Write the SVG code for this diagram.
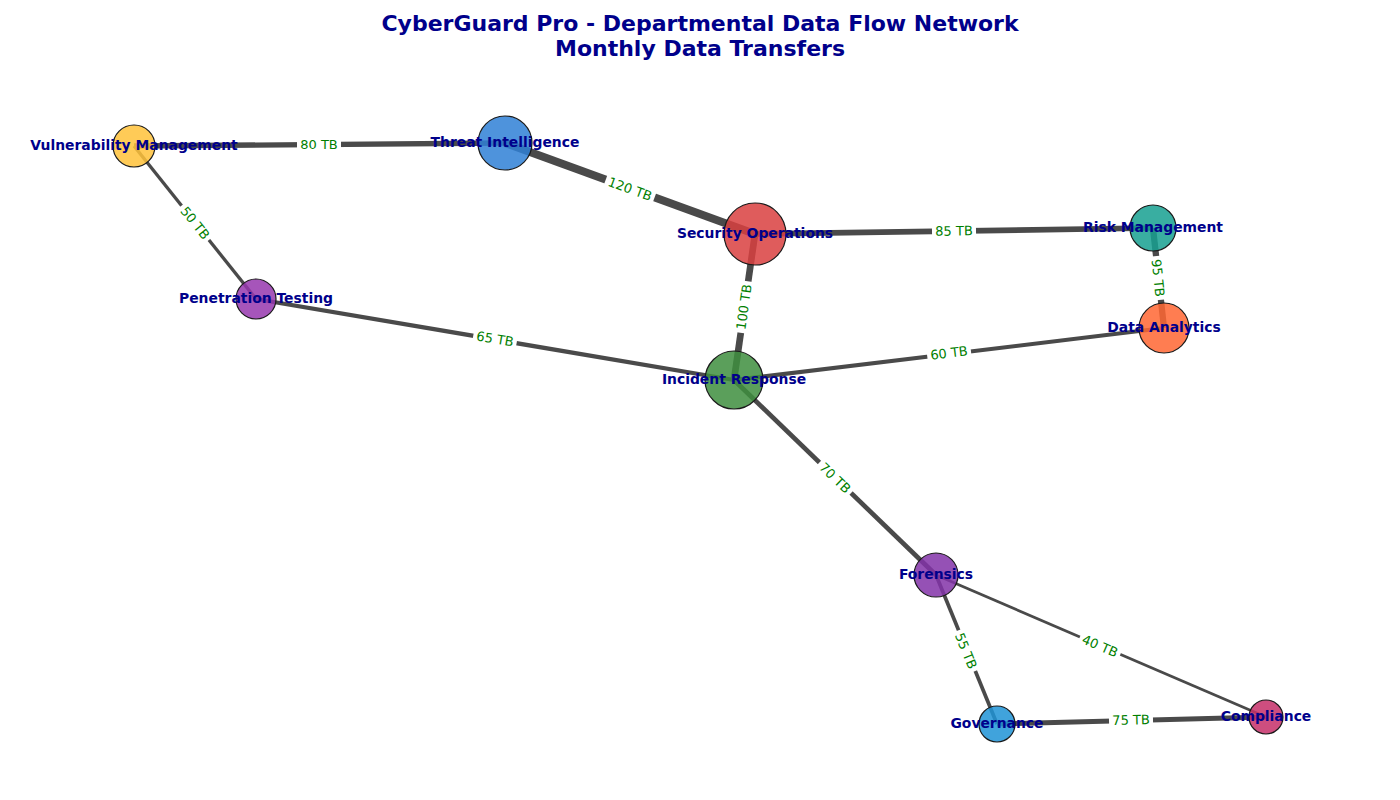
<svg xmlns="http://www.w3.org/2000/svg" width="1400" height="800" viewBox="0 0 1400 800">
<style>
.title{font-family:"DejaVu Sans",sans-serif;font-weight:bold;font-size:22px;fill:#00008B;text-anchor:middle}
.edge{stroke:#4a4a4a;stroke-linecap:butt;fill:none}
.node circle{stroke:#1a1a1a;stroke-width:1.2;fill-opacity:0.85}
.node text{font-family:"DejaVu Sans",sans-serif;font-weight:bold;font-size:13.9px;fill:#00008B;text-anchor:middle;dominant-baseline:central}
.elabel rect{fill:#ffffff}
.elabel text{font-family:"DejaVu Sans",sans-serif;font-size:13px;fill:#008000;text-anchor:middle;dominant-baseline:central}
</style>
<rect width="1400" height="800" fill="#ffffff"/>
<text class="title" x="700" y="31">CyberGuard Pro - Departmental Data Flow Network</text>
<text class="title" x="700" y="55.5">Monthly Data Transfers</text>
<g id="connectors">
<line class="edge" x1="134" y1="146" x2="505" y2="143" stroke-width="5.3"/>
<line class="edge" x1="505" y1="143" x2="755" y2="234" stroke-width="8"/>
<line class="edge" x1="755" y1="234" x2="1153" y2="228" stroke-width="5.7"/>
<line class="edge" x1="755" y1="234" x2="734" y2="380" stroke-width="6.7"/>
<line class="edge" x1="1153" y1="228" x2="1164" y2="328" stroke-width="6.3"/>
<line class="edge" x1="134" y1="146" x2="256" y2="299" stroke-width="3.3"/>
<line class="edge" x1="256" y1="299" x2="734" y2="380" stroke-width="4.3"/>
<line class="edge" x1="734" y1="380" x2="1164" y2="328" stroke-width="4"/>
<line class="edge" x1="734" y1="380" x2="936" y2="575" stroke-width="4.7"/>
<line class="edge" x1="936" y1="575" x2="997" y2="724" stroke-width="3.7"/>
<line class="edge" x1="936" y1="575" x2="1266" y2="717" stroke-width="2.7"/>
<line class="edge" x1="997" y1="724" x2="1266" y2="717" stroke-width="5"/>
</g>
<g id="node-vulnerability-management" class="node"><circle cx="134" cy="146" r="21" fill="#FFC23A"/></g>
<g id="node-threat-intelligence" class="node"><circle cx="505" cy="143" r="27" fill="#2F80D6"/></g>
<g id="node-security-operations" class="node"><circle cx="755" cy="234" r="31" fill="#D93F3F"/></g>
<g id="node-risk-management" class="node"><circle cx="1153" cy="228" r="23" fill="#16A090"/></g>
<g id="node-data-analytics" class="node"><circle cx="1164" cy="328" r="25" fill="#FF6633"/></g>
<g id="node-penetration-testing" class="node"><circle cx="256" cy="299" r="20" fill="#9637AE"/></g>
<g id="node-incident-response" class="node"><circle cx="734" cy="380" r="29" fill="#3E8E3E"/></g>
<g id="node-forensics" class="node"><circle cx="936" cy="575" r="22" fill="#8333A8"/></g>
<g id="node-governance" class="node"><circle cx="997" cy="724" r="18" fill="#1F93D6"/></g>
<g id="node-compliance" class="node"><circle cx="1266" cy="717" r="17" fill="#C52F68"/></g>
<g id="edge-labels">
<g class="elabel" transform="translate(319,144)"><rect x="-22" y="-9" width="44" height="18"/><text>80 TB</text></g>
<g class="elabel" transform="translate(630,189) rotate(20)"><rect x="-26" y="-9" width="52" height="18"/><text>120 TB</text></g>
<g class="elabel" transform="translate(954,231) rotate(-0.9)"><rect x="-22" y="-9" width="44" height="18"/><text>85 TB</text></g>
<g class="elabel" transform="translate(744,307) rotate(-82)"><rect x="-26" y="-9" width="52" height="18"/><text>100 TB</text></g>
<g class="elabel" transform="translate(1158,278) rotate(83.7)"><rect x="-22" y="-9" width="44" height="18"/><text>95 TB</text></g>
<g class="elabel" transform="translate(195,223) rotate(51.4)"><rect x="-22" y="-9" width="44" height="18"/><text>50 TB</text></g>
<g class="elabel" transform="translate(495,339) rotate(9.6)"><rect x="-22" y="-9" width="44" height="18"/><text>65 TB</text></g>
<g class="elabel" transform="translate(949,353) rotate(-6.9)"><rect x="-22" y="-9" width="44" height="18"/><text>60 TB</text></g>
<g class="elabel" transform="translate(835,478) rotate(44)"><rect x="-22" y="-9" width="44" height="18"/><text>70 TB</text></g>
<g class="elabel" transform="translate(966,651) rotate(67.7)"><rect x="-22" y="-9" width="44" height="18"/><text>55 TB</text></g>
<g class="elabel" transform="translate(1100,646) rotate(23.3)"><rect x="-22" y="-9" width="44" height="18"/><text>40 TB</text></g>
<g class="elabel" transform="translate(1131,720) rotate(-1.5)"><rect x="-22" y="-9" width="44" height="18"/><text>75 TB</text></g>
</g>
<g id="node-labels" class="node">
<text x="134" y="145">Vulnerability Management</text>
<text x="505" y="142">Threat Intelligence</text>
<text x="755" y="233">Security Operations</text>
<text x="1153" y="227">Risk Management</text>
<text x="1164" y="327">Data Analytics</text>
<text x="256" y="298">Penetration Testing</text>
<text x="734" y="379">Incident Response</text>
<text x="936" y="574">Forensics</text>
<text x="997" y="723">Governance</text>
<text x="1266" y="716">Compliance</text>
</g>
</svg>
